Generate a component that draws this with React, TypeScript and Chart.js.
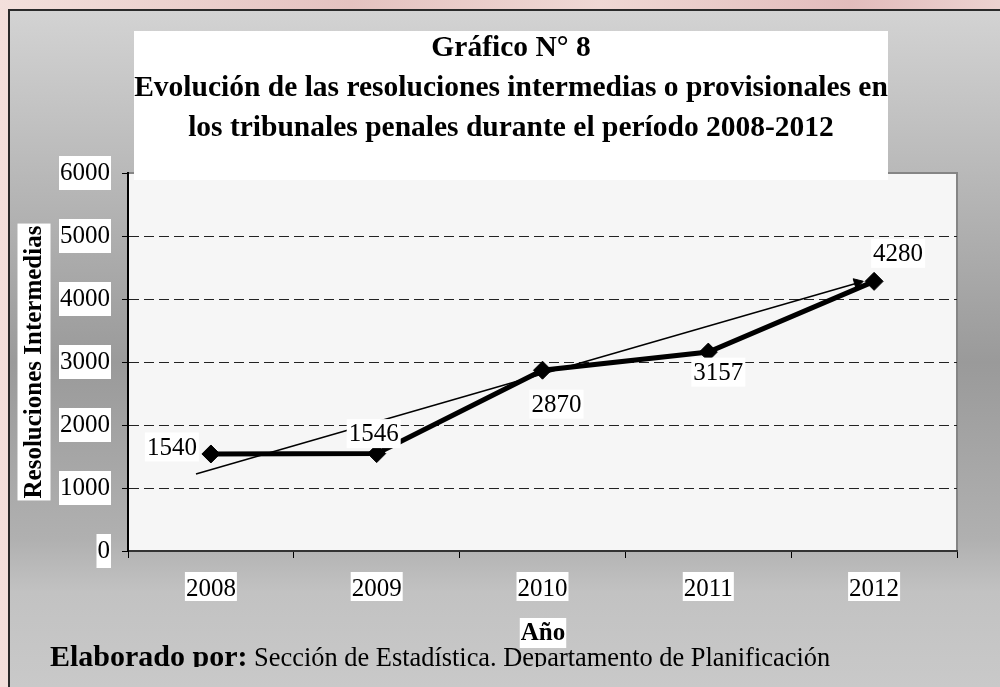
import React, { useEffect, useRef } from 'react';
import { Chart, registerables } from 'chart.js';

Chart.register(...registerables);

// ---- data ----
const years = ['2008', '2009', '2010', '2011', '2012'];
const resoluciones = [1540, 1546, 2870, 3157, 4280];
const yTicks = [0, 1000, 2000, 3000, 4000, 5000, 6000];
// hand-drawn trend arrow (category index, value)
const trendX = [-0.09, 3.9];
const trendY = [1222, 4255];

const titleLines = [
  'Gráfico N° 8',
  'Evolución de las resoluciones intermedias o provisionales en',
  'los tribunales penales durante el período 2008-2012',
];
const yTitle = 'Resoluciones Intermedias';
const xTitle = 'Año';
const footerBold = 'Elaborado por:';
const footerText = ' Sección de Estadística. Departamento de Planificación';

// label offsets (px) from each point
const labelOffsets: number[][] = [
  [-39, -7],
  [-3, -20],
  [14, 34],
  [10, 20],
  [24, -28],
];

const SERIF = '"Liberation Serif", "Times New Roman", serif';

function boxText(
  ctx: CanvasRenderingContext2D,
  text: string,
  x: number,
  y: number,
  size: number,
  bold: boolean,
  padX = 2,
  boxH = 0
) {
  ctx.font = `${bold ? 'bold ' : ''}${size}px ${SERIF}`;
  const w = ctx.measureText(text).width;
  const h = boxH || Math.round(size * 1.15);
  ctx.fillStyle = '#ffffff';
  ctx.fillRect(x - w / 2 - padX, y - h / 2, w + padX * 2, h);
  ctx.fillStyle = '#000000';
  ctx.textAlign = 'center';
  ctx.textBaseline = 'middle';
  ctx.fillText(text, x, y + 1);
}

const decor = {
  id: 'decor',
  beforeDraw(chart: any) {
    const { ctx, width, height, chartArea: a } = chart;
    ctx.save();
    const pg = ctx.createLinearGradient(0, 0, width, 0);
    pg.addColorStop(0, '#f3e0dc');
    pg.addColorStop(0.35, '#e4c2c0');
    pg.addColorStop(0.6, '#efd8d4');
    pg.addColorStop(0.85, '#e2bcbc');
    pg.addColorStop(1, '#ecd2d0');
    ctx.fillStyle = pg;
    ctx.fillRect(0, 0, width, height);

    const g = ctx.createLinearGradient(0, 11, 0, height);
    g.addColorStop(0, '#d3d3d3');
    g.addColorStop(0.52, '#9a9a9a');
    g.addColorStop(0.78, '#b0b0b0');
    g.addColorStop(0.86, '#c2c2c2');
    g.addColorStop(1, '#c9c9c9');
    ctx.fillStyle = g;
    ctx.fillRect(10, 11, width - 10, height - 11);
    ctx.fillStyle = '#2a2a2a';
    ctx.fillRect(8, 9, width - 8, 2);
    ctx.fillRect(8, 9, 2, height - 9);

    ctx.fillStyle = '#f6f6f6';
    ctx.fillRect(a.left, a.top, a.right - a.left, a.bottom - a.top);
    ctx.strokeStyle = '#858585';
    ctx.lineWidth = 2;
    ctx.beginPath();
    ctx.moveTo(a.left, a.top);
    ctx.lineTo(a.right, a.top);
    ctx.lineTo(a.right, a.bottom);
    ctx.stroke();
    ctx.restore();
  },
  afterDraw(chart: any) {
    const { ctx, width } = chart;
    ctx.save();
    // title box
    ctx.fillStyle = '#ffffff';
    ctx.fillRect(134, 31, 754, 149);
    ctx.fillStyle = '#000000';
    ctx.textAlign = 'center';
    ctx.textBaseline = 'middle';
    ctx.font = `bold 29.5px ${SERIF}`;
    const ty = [48, 88, 128];
    titleLines.forEach((t, i) => ctx.fillText(t, 511, ty[i]));

    // data labels
    const meta = chart.getDatasetMeta(0);
    meta.data.forEach((pt: any, i: number) => {
      const [dx, dy] = labelOffsets[i];
      boxText(ctx, String(resoluciones[i]), pt.x + dx, pt.y + dy, 25, false, 2, 29);
    });

    // y title
    ctx.save();
    ctx.translate(34, 362);
    ctx.rotate(-Math.PI / 2);
    boxText(ctx, yTitle, 0, 0, 25, true, 2, 33);
    ctx.restore();

    // x title
    boxText(ctx, xTitle, 543, 633, 25, true, 1, 30);

    // footer
    ctx.save();
    ctx.beginPath();
    ctx.rect(0, 0, width, 667);
    ctx.clip();
    ctx.fillStyle = '#000000';
    ctx.textAlign = 'left';
    ctx.textBaseline = 'alphabetic';
    ctx.font = `bold 30px ${SERIF}`;
    ctx.fillText(footerBold, 50, 666);
    const bw = ctx.measureText(footerBold).width;
    ctx.font = `26.4px ${SERIF}`;
    ctx.fillText(footerText, 50 + bw, 666);
    ctx.restore();

    ctx.restore();
  },
};

export default function App() {
  const ref = useRef<HTMLCanvasElement>(null);
  useEffect(() => {
    if (!ref.current) return;
    const chart = new Chart(ref.current, {
      type: 'line',
      data: {
        labels: years,
        datasets: [
          {
            data: resoluciones,
            borderColor: '#000000',
            borderWidth: 5,
            pointStyle: 'rectRot',
            pointRadius: 9,
            pointBackgroundColor: '#000000',
            pointBorderColor: '#000000',
            pointBorderWidth: 1,
            tension: 0,
            xAxisID: 'x',
            yAxisID: 'y',
          },
          {
            data: trendX.map((x, i) => ({ x, y: trendY[i] })) as any,
            xAxisID: 'x2',
            yAxisID: 'y',
            borderColor: '#000000',
            borderWidth: 1.5,
            pointStyle: 'triangle',
            pointRadius: [0, 6],
            pointRotation: [0, 74],
            pointBackgroundColor: '#000000',
            pointBorderColor: '#000000',
            pointBorderWidth: 1,
          } as any,
        ],
      },
      options: {
        animation: false,
        responsive: false,
        devicePixelRatio: 1,
        layout: { padding: { left: 58, right: 43, top: 173, bottom: 86 } },
        plugins: {
          legend: { display: false },
          tooltip: { enabled: false },
        },
        scales: {
          x: {
            type: 'category',
            offset: true,
            grid: {
              offset: true,
              drawOnChartArea: false,
              drawTicks: true,
              tickLength: 7,
              tickColor: '#000000',
              tickWidth: 1,
            },
            border: { color: '#333333', width: 2 },
            ticks: {
              color: '#000000',
              font: { family: SERIF, size: 25 },
              padding: 16,
              showLabelBackdrop: true,
              backdropColor: '#ffffff',
              backdropPadding: { x: 1, y: 2 },
            } as any,
            afterFit: (s: any) => {
              s.height = 50;
            },
          },
          x2: {
            type: 'linear',
            display: false,
            min: -0.5,
            max: 4.5,
          },
          y: {
            min: yTicks[0],
            max: yTicks[yTicks.length - 1],
            ticks: {
              stepSize: yTicks[1] - yTicks[0],
              callback: (v: any) => String(v),
              color: '#000000',
              font: { family: SERIF, size: 25 },
              padding: 12,
              showLabelBackdrop: true,
              backdropColor: '#ffffff',
              backdropPadding: { x: 1, y: 2 },
            } as any,
            grid: {
              color: (c: any) =>
                c.tick && (c.tick.value === yTicks[0] || c.tick.value === yTicks[yTicks.length - 1])
                  ? 'rgba(0,0,0,0)'
                  : '#222222',
              lineWidth: 1,
              tickColor: '#000000',
              tickLength: 6,
              tickBorderDash: [],
            } as any,
            border: { color: '#000000', width: 2, dash: [10, 5] },
            afterFit: (s: any) => {
              s.width = 70;
            },
          },
        },
      },
      plugins: [decor],
    });
    return () => chart.destroy();
  }, []);

  return (
    <div style={{ position: 'fixed', left: 0, top: 0, width: 1000, height: 687 }}>
      <canvas ref={ref} width={1000} height={687} style={{ width: 1000, height: 687, display: 'block' }} />
    </div>
  );
}
